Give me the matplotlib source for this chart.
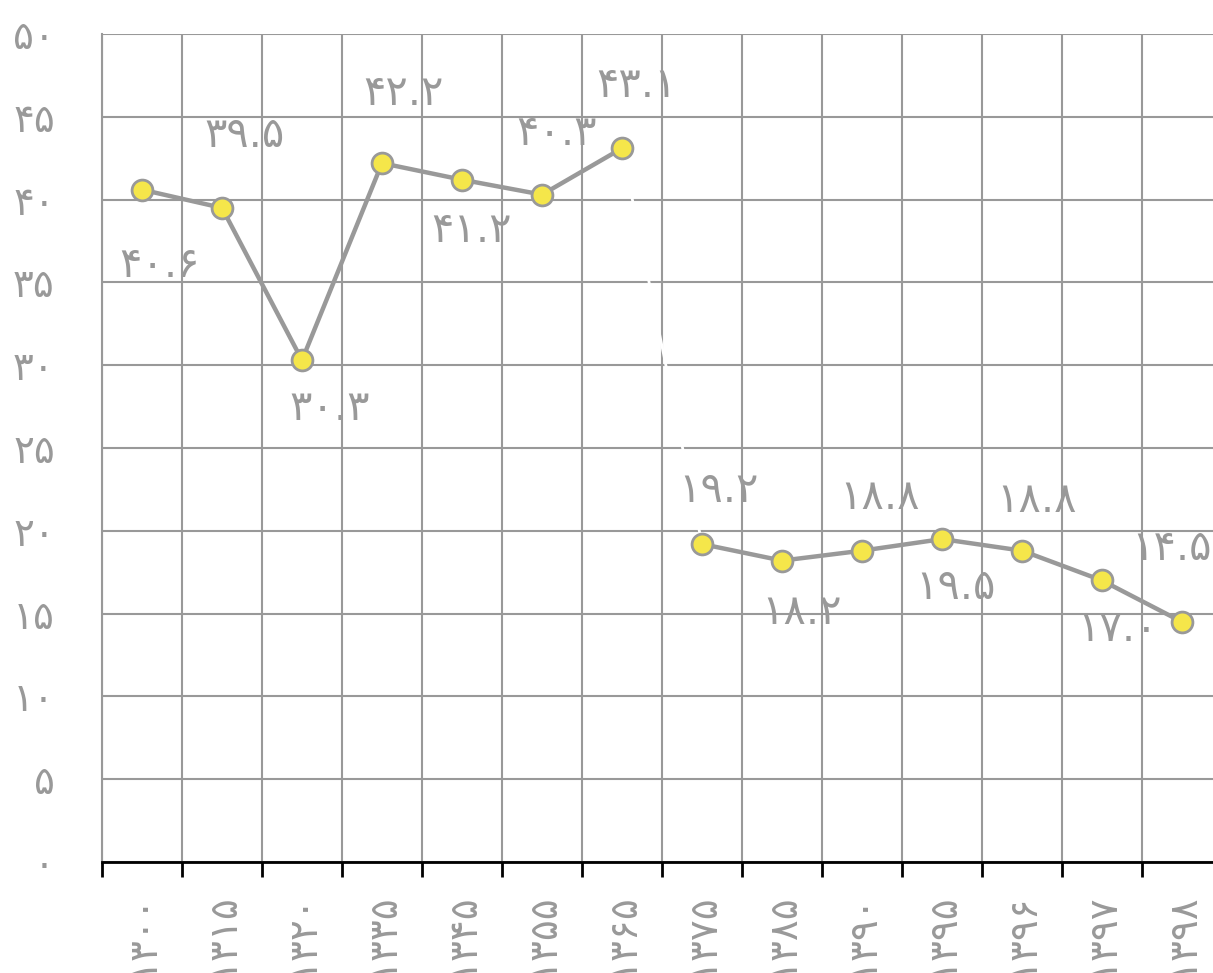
import numpy as np
import matplotlib
matplotlib.use('Agg')
import matplotlib.pyplot as plt

years = ['1300', '1315', '1320', '1335', '1345', '1355', '1365',
         '1375', '1385', '1390', '1395', '1396', '1397', '1398']
values = [40.6, 39.5, 30.3, 42.2, 41.2, 40.3, 43.1,
          19.2, 18.2, 18.8, 19.5, 18.8, 17.0, 14.5]
y_ticks = [0, 5, 10, 15, 20, 25, 30, 35, 40, 45, 50]

# label offsets in pixels (dx, dy)
label_off = [(18, -75), (23, 73), (28, -48), (21, 70), (10, -50), (15, 62), (15, 63),
             (16, 54), (20, -51), (18, 54), (13, -48), (15, 51), (16, -49), (-10, 74)]

FA = str.maketrans('0123456789', '۰۱۲۳۴۵۶۷۸۹')
def fa(s):
    return str(s).translate(FA)

GRAY = '#999999'
YELLOW = '#F5E64A'

plt.rcParams['font.family'] = ['DejaVu Sans']

fig = plt.figure(figsize=(12.13, 9.73), dpi=100)
ax = fig.add_axes([102 / 1213, 111 / 973, 1120 / 1213, 828 / 973])

x = np.arange(len(values))
n1 = 7
ax.plot(x[:n1], values[:n1], color=GRAY, lw=3.2, zorder=3)
ax.plot(x[n1:], values[n1:], color=GRAY, lw=3.2, zorder=3)
ax.plot(x[n1 - 1:n1 + 1], values[n1 - 1:n1 + 1], color='white', lw=2, zorder=2.5)
ax.plot(x, values, ls='none', marker='o', ms=15, mfc=YELLOW, mec=GRAY, mew=2, zorder=4)

for xi, v, (dx, dy) in zip(x, values, label_off):
    ax.annotate(fa('%.1f' % v), (xi, v), xytext=(dx, dy), textcoords='offset pixels',
                ha='center', va='center', fontsize=30, color=GRAY)

ax.set_xlim(-0.5, len(values) - 0.5)
ax.set_ylim(0, 50)
ax.set_yticks(y_ticks)
ax.set_yticklabels([fa(t) for t in y_ticks], fontsize=28, color=GRAY)
ax.tick_params(axis='y', length=0, pad=34)

ax.set_xticks(x)
ax.set_xticklabels([fa(y) for y in years], rotation=90, fontsize=28, color=GRAY, va='top')
ax.set_xticks(np.arange(-0.5, len(values), 1), minor=True)
ax.tick_params(axis='x', which='major', length=0, pad=22)
ax.tick_params(axis='x', which='minor', length=11, width=2, color='black', direction='out')

ax.grid(True, which='minor', axis='x', color=GRAY, lw=1.5, zorder=0)
ax.grid(True, which='major', axis='y', color=GRAY, lw=1.5, zorder=0)
ax.set_axisbelow(True)

for s in ['top', 'right']:
    ax.spines[s].set_visible(False)
ax.spines['left'].set_color(GRAY)
ax.spines['left'].set_linewidth(1.5)
ax.spines['bottom'].set_color('black')
ax.spines['bottom'].set_linewidth(2)

fig.savefig('out.png', dpi=100)
